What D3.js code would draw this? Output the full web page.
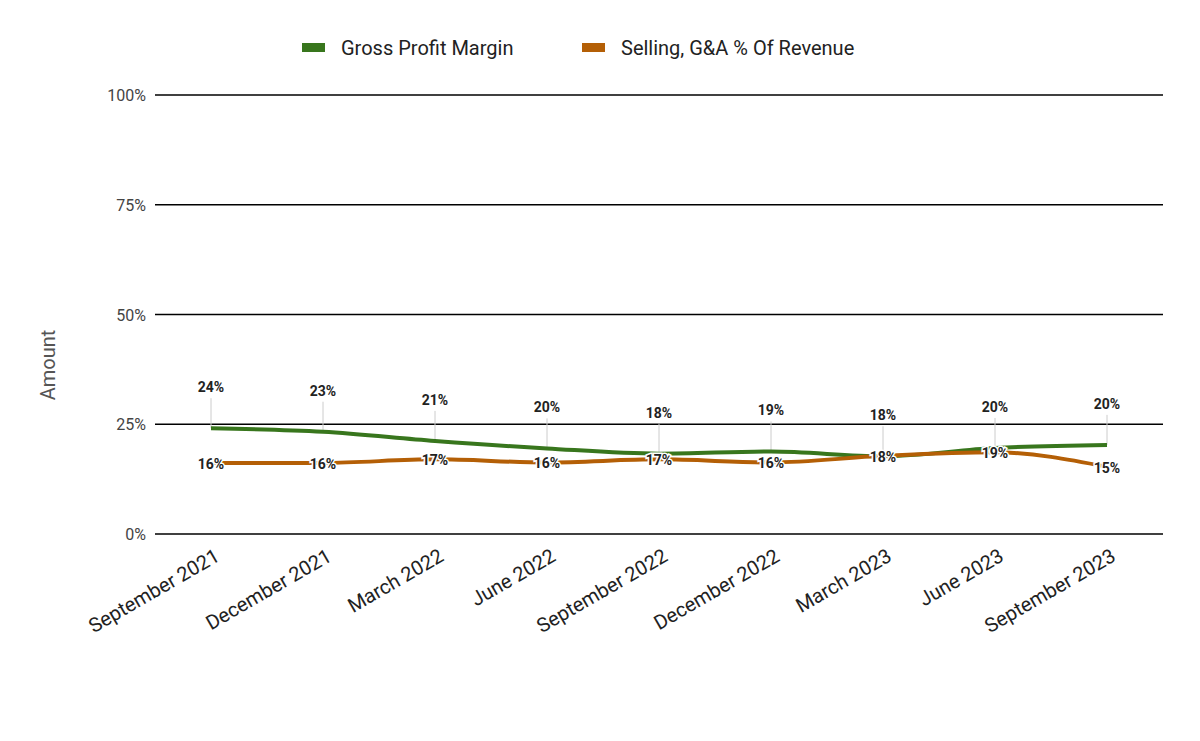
<!DOCTYPE html>
<html>
<head>
<meta charset="utf-8">
<script src="https://cdn.jsdelivr.net/npm/d3@7"></script>
<style>
  body { margin: 0; background: #fff; }
  text { font-family: Roboto, sans-serif; }
</style>
</head>
<body>
<svg id="chart" width="1200" height="741"></svg>
<script>
// data
const quarters = ["September 2021", "December 2021", "March 2022", "June 2022", "September 2022",
                  "December 2022", "March 2023", "June 2023", "September 2023"];
const grossMargin = [24.1, 23.3, 21.2, 19.5, 18.3, 18.8, 17.7, 19.6, 20.3];
const sgaPct = [16.2, 16.2, 17.0, 16.3, 17.0, 16.3, 17.8, 18.6, 15.3];
const yTicks = [0, 25, 50, 75, 100];

const green = "#38761d", orange = "#b45f06";
var svg = d3.select("#chart");
var plotLeft = 155, plotRight = 1163, plotTop = 95, plotBottom = 534;

var x = d3.scalePoint().domain(quarters).range([plotLeft, plotRight]).padding(0.5);
var y = d3.scaleLinear().domain([0, 100]).range([plotBottom, plotTop]);

// gridlines + y labels
svg.append("g").selectAll("line").data(yTicks).join("line")
  .attr("x1", plotLeft).attr("x2", plotRight)
  .attr("y1", d => y(d)).attr("y2", d => y(d))
  .attr("stroke", "#000").attr("stroke-width", 1.5);
svg.append("g").selectAll("text").data(yTicks).join("text")
  .attr("x", plotLeft - 9).attr("y", d => y(d) + 6)
  .attr("text-anchor", "end").attr("font-size", 16).attr("fill", "#444")
  .text(d => d + "%");

// axis title
svg.append("text").attr("transform", "translate(55,365) rotate(-90)")
  .attr("text-anchor", "middle").attr("font-size", 20).attr("fill", "#555").text("Amount");

// x labels
svg.append("g").selectAll("text").data(quarters).join("text")
  .attr("transform", d => `translate(${x(d) + 10},${plotBottom + 26}) rotate(-30)`)
  .attr("text-anchor", "end").attr("font-size", 20).attr("fill", "#222")
  .text(d => d);

var line = d3.line().x((d, i) => x(quarters[i])).y(d => y(d)).curve(d3.curveMonotoneX);

// green leader lines
svg.append("g").selectAll("line").data(grossMargin).join("line")
  .attr("x1", (d, i) => x(quarters[i])).attr("x2", (d, i) => x(quarters[i]))
  .attr("y1", d => y(d) - 30).attr("y2", d => y(d))
  .attr("stroke", "#ccc").attr("stroke-width", 1);

svg.append("path").datum(grossMargin).attr("d", line)
  .attr("fill", "none").attr("stroke", green).attr("stroke-width", 4);
svg.append("path").datum(sgaPct).attr("d", line)
  .attr("fill", "none").attr("stroke", orange).attr("stroke-width", 4);

// labels
svg.append("g").selectAll("text").data(grossMargin).join("text")
  .attr("x", (d, i) => x(quarters[i])).attr("y", d => y(d) - 36)
  .attr("text-anchor", "middle").attr("font-size", 14).attr("font-weight", "bold")
  .attr("fill", "#222").text(d => Math.round(d) + "%");
svg.append("g").selectAll("text").data(sgaPct).join("text")
  .attr("x", (d, i) => x(quarters[i])).attr("y", d => y(d) + 6)
  .attr("text-anchor", "middle").attr("font-size", 14).attr("font-weight", "bold")
  .attr("fill", "#222").attr("stroke", "#fff").attr("stroke-width", 3)
  .attr("paint-order", "stroke").text(d => Math.round(d) + "%");

// legend
var legend = [{name: "Gross Profit Margin", color: green, x: 302},
              {name: "Selling, G&A % Of Revenue", color: orange, x: 582}];
legend.forEach(function(l) {
  svg.append("rect").attr("x", l.x).attr("y", 43).attr("width", 23).attr("height", 9)
    .attr("fill", l.color);
  svg.append("text").attr("x", l.x + 39).attr("y", 55).attr("font-size", 20)
    .attr("fill", "#222").text(l.name);
});
</script>
</body>
</html>
